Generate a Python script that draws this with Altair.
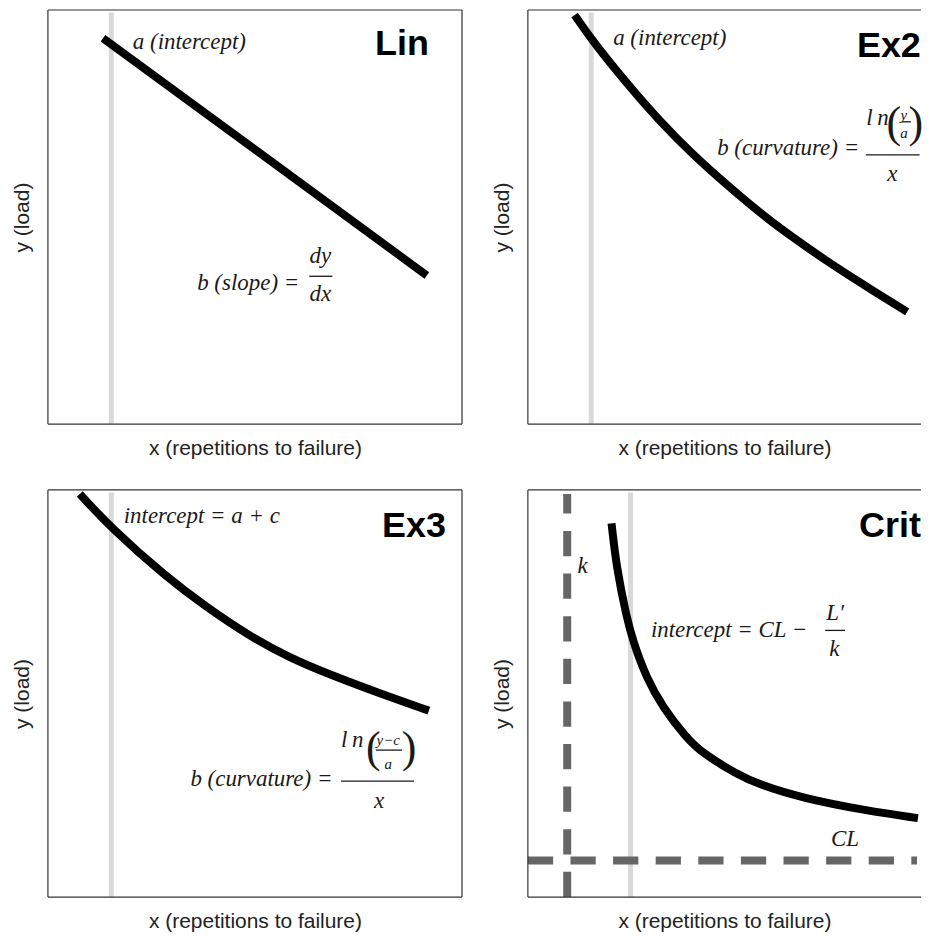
import altair as alt
import pandas as pd

# ---------------- data (x, y in % of each panel's full range) ----------------
lin_x = [13.3, 91.5]
lin_y = [93.2, 35.9]

ex2_x = [11.3, 15.7, 23.8, 31.8, 39.8, 47.9, 55.9, 63.9, 72.0, 80.0, 91.6]
ex2_y = [98.8, 92.4, 82.4, 73.2, 65.1, 57.9, 51.1, 45.1, 39.5, 34.3, 27.1]

ex3_x = [7.7, 15.3, 28.6, 38.2, 48.7, 58.3, 68.7, 80.8, 92.0]
ex3_y = [99.0, 90.6, 78.6, 71.3, 64.1, 58.8, 54.4, 49.8, 45.8]

crit_x = [20.2, 21.4, 23.8, 25.4, 28.6, 32.6, 38.2, 42.2, 50.3, 55.9, 66.3, 82.4, 94.2]
crit_y = [91.8, 81.0, 68.9, 62.8, 53.9, 46.6, 39.2, 35.3, 30.3, 27.6, 24.3, 21.1, 19.4]

ref_lines = [15.3, 15.3, 15.3, 24.8]   # light grey vertical reference lines
crit_k = 9.5                            # dashed asymptote x = k
crit_cl = 9.0                           # dashed asymptote y = CL

titles = ["Lin", "Ex2", "Ex3", "Crit"]
title_pos = [(92.0, 91.7), (94.9, 91.2), (96.1, 91.2), (94.9, 91.2)]

# annotations: text, x, y, size, align, style
lin_notes = [
    ("a (intercept)", 20.5, 92.3, 23, "left", "italic"),
    ("b (slope) =", 60.7, 34.1, 23, "right", "italic"),
    ("dy", 65.8, 40.6, 23, "center", "italic"),
    ("dx", 65.8, 31.5, 23, "center", "italic"),
]
lin_bars = [(63.1, 68.7, 35.7)]

ex2_notes = [
    ("a (intercept)", 20.6, 93.3, 23, "left", "italic"),
    ("b (curvature) =", 80.0, 66.6, 23, "right", "italic"),
    ("l\u2009n", 81.7, 73.8, 23, "left", "italic"),
    ("(", 88.4, 72.4, 44, "center", "normal"),
    ("y", 90.8, 74.6, 15, "center", "italic"),
    ("a", 90.8, 70.4, 15, "center", "italic"),
    (")", 93.7, 72.4, 44, "center", "normal"),
    ("x", 88.0, 60.3, 23, "center", "italic"),
]
ex2_bars = [(81.6, 94.6, 65.0), (90.3, 92.5, 73.0)]

ex3_notes = [
    ("intercept = a + c", 18.3, 93.7, 23, "left", "italic"),
    ("b (curvature) =", 68.7, 29.0, 23, "right", "italic"),
    ("l\u2009n", 70.8, 38.7, 23, "left", "italic"),
    ("(", 78.6, 36.4, 44, "center", "normal"),
    ("y\u2212c", 82.2, 38.6, 15, "center", "italic"),
    ("a", 82.2, 32.8, 15, "center", "italic"),
    (")", 87.2, 36.4, 44, "center", "normal"),
    ("x", 80.0, 23.5, 23, "center", "italic"),
]
ex3_bars = [(70.8, 88.4, 28.5), (79.2, 85.5, 36.1)]

crit_notes = [
    ("k", 13.2, 81.4, 23, "center", "italic"),
    ("intercept = CL \u2212", 67.5, 65.6, 23, "right", "italic"),
    ("L\u2032", 74.2, 69.7, 23, "center", "italic"),
    ("k", 74.0, 60.9, 23, "center", "italic"),
    ("CL", 76.6, 14.2, 23, "center", "italic"),
]
crit_bars = [(71.8, 76.6, 65.5)]

# ---------------- chart ----------------
FULL_W = 415          # nominal panel width
RIGHT_W = 394         # right-hand panels are cut off by the page edge
H_TOP = 415
H_BOT = 408
TXT = "#1a1a1a"
BORDER = "#333333"


def panel(cx, cy, ref, title, tpos, notes, bars, width, height, dashed=False,
          right_edge=True, interp="basis"):
    xmax = 100.0 * width / FULL_W
    xs = alt.Scale(domain=[0, xmax], nice=False, zero=False)
    ys = alt.Scale(domain=[0, 100], nice=False, zero=False)
    xax = alt.Axis(title="x (repetitions to failure)", titlePadding=13)
    yax = alt.Axis(title="y (load)", titlePadding=15)

    def X(f="x"):
        return alt.X(f"{f}:Q", scale=xs, axis=xax)

    def Y(f="y"):
        return alt.Y(f"{f}:Q", scale=ys, axis=yax)

    layers = []
    layers.append(
        alt.Chart(pd.DataFrame({"x": [ref]}))
        .mark_rule(color="#d9d9d9", strokeWidth=5, strokeCap="butt")
        .encode(x=X(), y=alt.value(height), y2=alt.value(2.5))
    )
    if dashed:
        layers.append(
            alt.Chart(pd.DataFrame({"y": [crit_cl]}))
            .mark_rule(color="#666666", strokeWidth=8, strokeDash=[25.3, 17.4], strokeCap="butt")
            .encode(x=alt.value(0), x2=alt.value(width - 4), y=Y())
        )
        layers.append(
            alt.Chart(pd.DataFrame({"x": [crit_k]}))
            .mark_rule(color="#666666", strokeWidth=8, strokeDash=[25.3, 17.4], strokeCap="butt")
            .encode(x=X(), y=alt.value(height), y2=alt.value(4))
        )
    layers.append(
        alt.Chart(pd.DataFrame({"x": cx, "y": cy}))
        .mark_line(color="black", strokeWidth=8, interpolate=interp, clip=True, strokeCap="butt")
        .encode(x=X(), y=Y())
    )
    bdf = pd.DataFrame(bars, columns=["x0", "x1", "y"])
    layers.append(
        alt.Chart(bdf)
        .mark_rule(color=TXT, strokeWidth=1.3)
        .encode(x=X("x0"), x2="x1:Q", y=Y())
    )
    ndf = pd.DataFrame(notes, columns=["t", "x", "y", "size", "align", "style"])
    for (al, st), g in ndf.groupby(["align", "style"]):
        layers.append(
            alt.Chart(g)
            .mark_text(align=al, baseline="middle", font="Liberation Serif",
                       fontStyle=st, color=TXT)
            .encode(x=X(), y=Y(), text="t:N", size=alt.Size("size:Q", scale=None, legend=None))
        )
    layers.append(
        alt.Chart(pd.DataFrame({"t": [title], "x": [tpos[0]], "y": [tpos[1]]}))
        .mark_text(align="right", baseline="middle", font="Liberation Sans",
                   fontWeight="bold", fontSize=36, color="black")
        .encode(x=X(), y=Y(), text="t:N")
    )
    # panel frame (the right edge of the right-hand panels lies off the page)
    frame = alt.Chart(pd.DataFrame({"k": [0]}))
    layers.append(frame.mark_rule(color=BORDER, strokeWidth=1.2).encode(
        x=alt.value(0), x2=alt.value(width), y=alt.value(0)))
    layers.append(frame.mark_rule(color=BORDER, strokeWidth=1.2).encode(
        x=alt.value(0), x2=alt.value(width), y=alt.value(height)))
    layers.append(frame.mark_rule(color=BORDER, strokeWidth=1.2).encode(
        x=alt.value(0), y=alt.value(0), y2=alt.value(height)))
    if right_edge:
        layers.append(frame.mark_rule(color=BORDER, strokeWidth=1.2).encode(
            x=alt.value(width), y=alt.value(0), y2=alt.value(height)))
    return alt.layer(*layers).properties(width=width, height=height)


p1 = panel(lin_x, lin_y, ref_lines[0], titles[0], title_pos[0], lin_notes, lin_bars,
           FULL_W, H_TOP, interp="linear")
p2 = panel(ex2_x, ex2_y, ref_lines[1], titles[1], title_pos[1], ex2_notes, ex2_bars,
           RIGHT_W, H_TOP, right_edge=False)
p3 = panel(ex3_x, ex3_y, ref_lines[2], titles[2], title_pos[2], ex3_notes, ex3_bars,
           FULL_W, H_BOT)
p4 = panel(crit_x, crit_y, ref_lines[3], titles[3], title_pos[3], crit_notes, crit_bars,
           RIGHT_W, H_BOT, dashed=True, right_edge=False)

chart = (
    alt.vconcat(
        alt.hconcat(p1, p2, spacing=29),
        alt.hconcat(p3, p4, spacing=29),
        spacing=31,
    )
    .properties(padding={"left": 4, "top": 0, "right": 0, "bottom": 0}, background="white")
    .configure_view(stroke=None)
    .configure_axis(
        labels=False, ticks=False, domain=False, grid=False,
        titleFont="Liberation Sans", titleFontSize=21, titleFontWeight="normal",
        titleColor="#222222",
    )
)

chart.save("out.html", embed_options={"renderer": "svg", "actions": False})
